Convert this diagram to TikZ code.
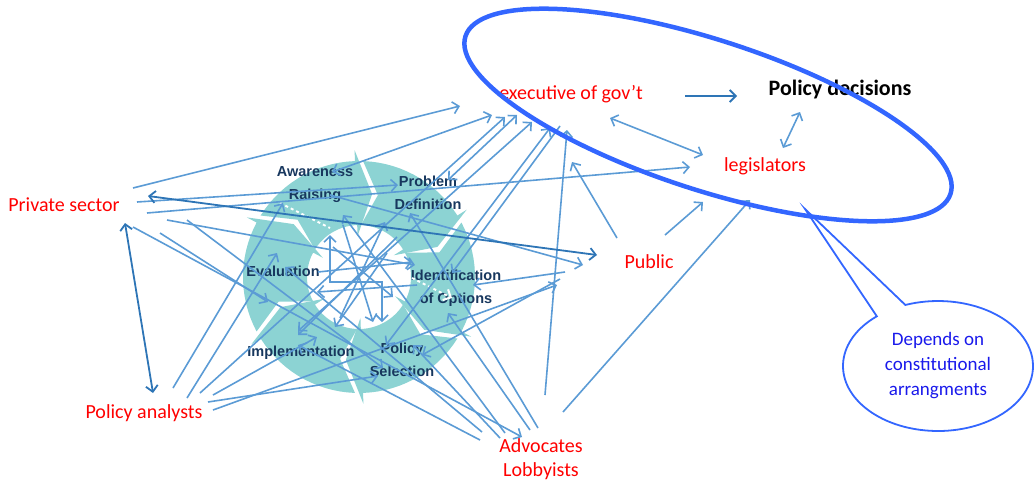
\documentclass[tikz,border=0pt]{standalone}
\usepackage{fontspec}
\setmainfont{Carlito}
\newfontfamily\stagefont{Liberation Sans}
\usetikzlibrary{arrows.meta,shapes.geometric,shapes.callouts}

\definecolor{cycleteal}{RGB}{140,211,211}
\definecolor{stagenavy}{RGB}{23,55,94}
\definecolor{linkblue}{RGB}{91,155,213}
\definecolor{strongblue}{RGB}{46,117,182}
\definecolor{ringblue}{RGB}{51,102,255}
\definecolor{actorred}{RGB}{255,0,0}
\definecolor{noteblue}{RGB}{25,25,235}

\tikzset{
  barb/.tip={Straight Barb[length=6pt,width=12pt]},
  actor/.style={text=actorred, font=\fontsize{20}{24}\selectfont, align=center, inner sep=1pt},
  stage/.style={text=stagenavy, font=\stagefont\bfseries\fontsize{14.5}{23}\selectfont, align=center, inner sep=1pt},
  link/.style={draw=linkblue, line width=1.6pt, -barb},
  twoway/.style={draw=linkblue, line width=1.6pt, barb-barb},
  strong/.style={draw=strongblue, line width=1.8pt, -barb},
  strongtwo/.style={draw=strongblue, line width=1.8pt, barb-barb},
  arena/.style={draw=ringblue, line width=4.5pt, ellipse, minimum width=510pt, minimum height=150pt, inner sep=0pt, rotate=-18},
  note/.style={draw=ringblue, line width=1.8pt, ellipse callout, callout pointer arc=20, minimum width=190pt, minimum height=130pt, inner sep=0pt, text=noteblue, font=\fontsize{19}{25}\selectfont, align=center}
}

\begin{document}
\begin{tikzpicture}[x=1pt, y=-1pt]
\useasboundingbox (0,0) rectangle (1035,483);

% policy cycle, six arrows running clockwise
\begin{scope}[shift={(359,277)}]
  \foreach \s in {212,272,...,512}{
    \pgfmathsetmacro\segend{\s+56}
    \pgfmathsetmacro\segtip{\s+67}
    \pgfmathsetmacro\segnotch{\s+11}
    \fill[cycleteal] (\s:116) -- plot[domain=\s:\segend, samples=16] (\x:116) -- (\segend:127) -- (\segtip:84)
      -- (\segend:41) -- plot[domain=\segend:\s, samples=16] (\x:52) -- (\segnotch:84) -- cycle;
  }
\end{scope}

\node[stage] (aw) at (315,185) {Awareness\\Raising};
\node[stage] (pdef) at (428,193) {Problem\\Definition};
\node[stage] (ev) at (283,271) {Evaluation};
\node[stage] (io) at (456,288) {Identification\\of Options};
\node[stage] (impl) at (301,353) {Implementation};
\node[stage] (sel) at (402,360) {Policy\\Selection};

% actors
\node[actor] (ps) at (64,205) {Private sector};
\node[actor] (pa) at (144,413) {Policy analysts};
\node[actor] (adv) at (541,459) {Advocates\\Lobbyists};
\node[actor] (public) at (649,262) {Public};
\node[actor] (exec) at (571,94) {executive of gov’t};
\node[actor, text=black, font=\bfseries\fontsize{22}{26}\selectfont] (pdec) at (840,90) {Policy decisions};
\node[actor] (leg) at (765,166) {legislators};

% connector ends
\foreach \n/\x/\y in {psA/133/188, psB/137/202, psC/147/213, psD/148/196, psE/167/220, psF/160/233, psG/187/220, psH/133/227, psI/125/223,
    paA/153/393, paB/173/388, paC/187/398, paD/200/393, paE/213/395, paF/213/410, paG/208/402,
    adA/480/440, adC/482/432, adD/505/433, adE/522/437, adF/538/428, adG/545/395, adH/563/412, adI/530/430, adJ/500/438,
    puA/597/255, puB/583/265, puC/617/238, puD/665/235, puE/565/272, puF/557/285, puG/560/279,
    exA/460/106, exB/492/115, exC/517/115, exD/532/122, exE/550/128, exF/567/130, exG/572/162, exH/685/96, exI/610/118, exJ/505/117, exL/560/126,
    pdA/737/96, pdB/800/112,
    lgA/703/155, lgB/783/148, lgC/690/167, lgD/750/200, lgE/703/202,
    awA/332/172, awB/283/203, awC/343/215, awD/330/195,
    pfA/448/180, pfB/398/185, pfC/410/213,
    evA/268/302, evB/277/253, evC/285/267,
    ioA/415/265, ioB/448/313, ioC/473/285, ioD/452/273,
    imA/317/337, imB/298/345, imC/298/331,
    slA/383/368, slB/378/376, slC/413/345, slD/422/355, slE/386/345,
    iaA/330/235, iaB/382/322, ibA/318/272, ibB/412/262, icA/417/285, icB/317/292, idA/340/318, idB/385/222,
    ieA/397/237, ieB/298/335, ifA/343/225, ifB/373/322, igA/333/247, igB/393/297, ihA/387/253, ihB/335/327,
    wdA/280/203, wdB/330/228, wdC/412/278, wdD/452/298, tail/805/209}
  \coordinate (\n) at (\x,\y);

\draw[white, dashed, line width=2pt] (wdA) -- (wdB);
\draw[white, dashed, line width=2pt, -barb] (wdC) -- (wdD);

\foreach \a/\b in {psA/exA, psB/pfB, psC/lgC, psE/ioA, psF/evA, psG/slA, psH/adE,
    paB/awB, paC/evB, paD/exJ, paE/imA, paF/puF, paG/slB,
    adA/imB, adC/evC, adD/awC, adF/pfC, adI/ioB, adJ/slC, adG/exF, adH/lgD,
    puC/exG, puD/lgE, puE/ioC, puG/slD, awD/puB, exL/ioD,
    ibA/ibB, icA/icB, idA/idB, ieA/ieB, ifA/ifB, igA/igB, ihA/ihB}
  \draw[link] (\a) -- (\b);
\foreach \a/\b in {exI/lgA, pdB/lgB, pfA/exC, awA/exB, imC/exD, slE/exE}
  \draw[twoway] (\a) -- (\b);
\draw[twoway] (iaA) |- (356,282) -| (iaB);
\draw[strongtwo] (psI) -- (paA);
\draw[strongtwo] (psD) -- (puA);
\draw[strong] (exH) -- (pdA);

% decision arena and note
\node[arena] (ring) at (708,115) {};
\node[note, callout absolute pointer={(tail)}] (dep) at (938,366) {Depends on\\constitutional\\arrangments};
\end{tikzpicture}
\end{document}
